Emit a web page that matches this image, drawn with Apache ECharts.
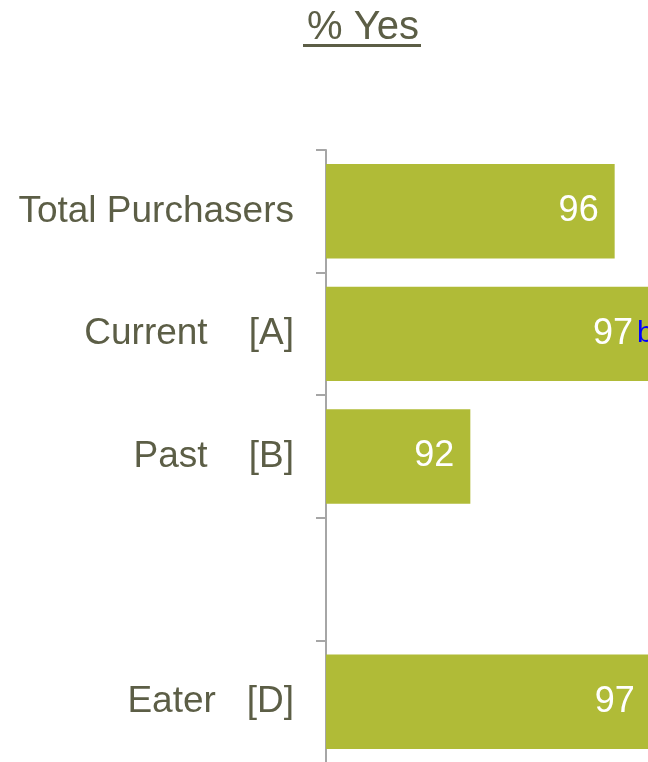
<!DOCTYPE html>
<html>
<head>
<meta charset="utf-8">
<script src="https://cdn.jsdelivr.net/npm/echarts@6/dist/echarts.min.js"></script>
<style>
  html, body { margin: 0; padding: 0; background: #fff; }
  #main { width: 648px; height: 762px; }
</style>
</head>
<body>
<div id="main"></div>
<script>
// 数据
const categories = ['Total Purchasers', 'Current    [A]', 'Past    [B]', '', 'Eater   [D]']
const values = [96, 97, 92, null, 97]
const sigLetters = ['', 'b', '', '', '']

const textColor = '#5c5e46'
const barColor = '#b0bb37'

const chart = echarts.init(document.getElementById('main'))

const seriesData = values.map((v, i) => {
  const item = { value: v }
  if (sigLetters[i]) {
    // letter sits right after the number
    item.label = {
      formatter: '{v|{c}}{s|' + sigLetters[i] + '}',
      offset: [19, 0]
    }
  }
  return item
})

const option = {
  animation: false,
  title: {
    text: '% Yes',
    left: 302,
    top: 3,
    textStyle: {
      fontFamily: 'Liberation Sans',
      fontSize: 40,
      fontWeight: 'normal',
      color: textColor
    }
  },
  graphic: [
    {
      type: 'rect',
      shape: { x: 303, y: 44, width: 118, height: 3 },
      style: { fill: textColor }
    }
  ],
  grid: {
    left: 326,
    right: -111,
    top: 150,
    bottom: -1,
    outerBoundsMode: 'none'
  },
  xAxis: {
    type: 'value',
    min: 88,
    max: 100,
    show: false
  },
  yAxis: {
    type: 'category',
    inverse: true,
    data: categories,
    axisLine: { show: true, lineStyle: { color: '#a6a6a6', width: 2 } },
    axisTick: { show: true, length: 10, lineStyle: { color: '#a6a6a6', width: 2 } },
    axisLabel: {
      interval: 0,
      margin: 32,
      fontFamily: 'Liberation Sans',
      fontSize: 37,
      color: textColor
    }
  },
  series: [
    {
      type: 'bar',
      data: seriesData,
      barCategoryGap: '23%',
      itemStyle: { color: barColor },
      label: {
        show: true,
        position: 'insideRight',
        distance: 16,
        fontFamily: 'Liberation Sans',
        fontSize: 36,
        color: '#fff',
        rich: {
          v: { fontFamily: 'Liberation Sans', fontSize: 36, color: '#fff' },
          s: { fontFamily: 'Liberation Sans', fontSize: 30, color: '#0000ff', padding: [0, 0, 0, 4] }
        }
      }
    }
  ]
}

chart.setOption(option)
</script>
</body>
</html>
